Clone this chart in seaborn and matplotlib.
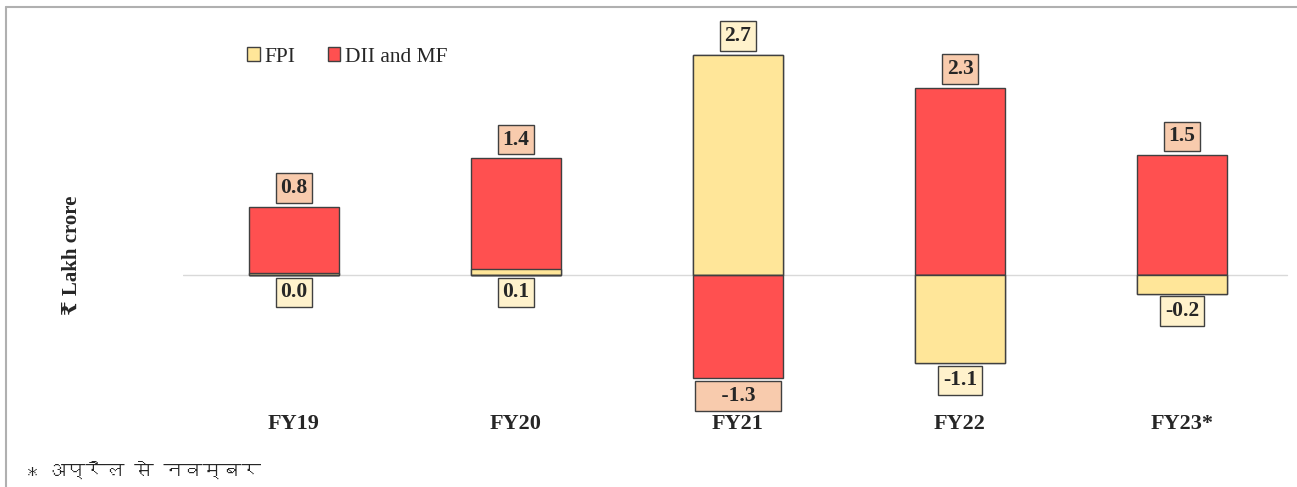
import numpy as np
import pandas as pd
import matplotlib
matplotlib.use("agg")
import matplotlib.pyplot as plt
from matplotlib.patches import Patch
from matplotlib.lines import Line2D
from matplotlib import font_manager
from matplotlib.ft2font import FT2Font
import seaborn as sns

# data
categories = ["FY19", "FY20", "FY21", "FY22", "FY23*"]
fpi = [0.02, 0.07, 2.70, -1.08, -0.23]
dii_mf = [0.82, 1.36, -1.27, 2.30, 1.47]
series_names = ["FPI", "DII and MF"]
y_label = "₹ Lakh crore"
footnote = "* अप्रैल से नवम्बर"

FPI_COLOR = "#FFE699"
DII_COLOR = "#FF5050"
FPI_BOX = "#FFF2CC"
DII_BOX = "#F8CBAD"
EDGE = "#404040"
TEXT = "#262626"


def find_font(ch, fallback="DejaVu Sans"):
    for f in font_manager.fontManager.ttflist:
        try:
            if ord(ch) in FT2Font(f.fname).get_charmap():
                return f.name
        except Exception:
            pass
    return fallback


sns.set_theme(style="white")
serif = ["Liberation Serif", "DejaVu Serif", "DejaVu Sans"]
plt.rcParams["font.family"] = serif

fpi = np.array(fpi)
dii = np.array(dii_mf)
fpi_pos, dii_pos = np.clip(fpi, 0, None), np.clip(dii, 0, None)
fpi_neg, dii_neg = np.clip(fpi, None, 0), np.clip(dii, None, 0)
pos_top = fpi_pos + dii_pos
neg_bot = fpi_neg + dii_neg

fig = plt.figure(figsize=(12.97, 4.87), dpi=100)
ax = fig.add_axes([183 / 1297, 87 / 487, 1110 / 1297, 385 / 487])

bar_kw = dict(order=categories, width=0.405, edgecolor=EDGE, linewidth=1,
              saturation=1, errorbar=None, ax=ax, zorder=3)
# layered stacks: totals first, lower segment drawn over them
layers = [(pos_top, DII_COLOR), (fpi_pos, FPI_COLOR),
          (neg_bot, DII_COLOR), (fpi_neg, FPI_COLOR)]
for vals, col in layers:
    d = pd.DataFrame({"cat": categories, "val": vals})
    sns.barplot(data=d, x="cat", y="val", color=col, **bar_kw)

ax.axhline(0, xmin=0, xmax=0.995, color="#D9D9D9", lw=1, zorder=2)
ax.set_xlim(-0.5, 4.5)
ax.set_ylim(-1.534, 3.19)
ax.set_yticks([])
ax.set_xlabel("")
ax.set_ylabel("")
ax.tick_params(axis="x", length=0, pad=10)
ax.set_xticks(range(len(categories)))
ax.set_xticklabels(categories, fontsize=16, fontweight="bold", color=TEXT)
sns.despine(ax=ax, left=True, bottom=True)

# value labels: larger series on top of positive stack, other below the negative stack
for i in range(len(categories)):
    vals = [fpi[i], dii[i]]
    boxes = [FPI_BOX, DII_BOX]
    top_idx = int(np.argmax(vals))
    bot_idx = 1 - top_idx
    ax.annotate(f"{vals[top_idx]:.1f}", (i, pos_top[i]), xytext=(0, 13.5),
                textcoords="offset points", ha="center", va="center",
                fontsize=15.5, fontweight="bold", color=TEXT, zorder=5,
                bbox=dict(boxstyle="square,pad=0.22", fc=boxes[top_idx], ec=EDGE, lw=1))
    lab = f"{vals[bot_idx]:.1f}"
    if i == 2:
        lab = "    " + lab + "    "   # wide box as in the source
    ax.annotate(lab, (i, neg_bot[i]), xytext=(0, -12.5),
                textcoords="offset points", ha="center", va="center",
                fontsize=15.5, fontweight="bold", color=TEXT, zorder=5,
                bbox=dict(boxstyle="square,pad=0.22", fc=boxes[bot_idx], ec=EDGE, lw=1))

handles = [Patch(facecolor=FPI_COLOR, edgecolor=EDGE, lw=1),
           Patch(facecolor=DII_COLOR, edgecolor=EDGE, lw=1)]
fig.legend(handles, series_names, loc="center left",
           bbox_to_anchor=(247 / 1297, 1 - 57 / 487), ncol=2, frameon=False,
           fontsize=15.5, handlelength=0.6, handleheight=0.6, handletextpad=0.2,
           columnspacing=1.5, borderpad=0, borderaxespad=0,
           labelcolor=TEXT)

fig.text(72 / 1297, 1 - 255 / 487, y_label, rotation=90, ha="center", va="center",
         fontsize=15, fontweight="bold", color=TEXT, family=serif)

deva = find_font("अ")
fig.text(27 / 1297, 1 - 470 / 487, footnote, ha="left", va="center",
         fontsize=14, fontweight="bold", color=TEXT,
         family=[deva, "DejaVu Sans"])

# frame lines on top and left edge
fig.add_artist(Line2D([6 / 1297, 1], [1 - 7 / 487] * 2, color="#B0B0B0", lw=1.5,
                      transform=fig.transFigure))
fig.add_artist(Line2D([6 / 1297] * 2, [0, 1 - 7 / 487], color="#B0B0B0", lw=1.5,
                      transform=fig.transFigure))

fig.savefig("out.png", dpi=100, facecolor="white")
